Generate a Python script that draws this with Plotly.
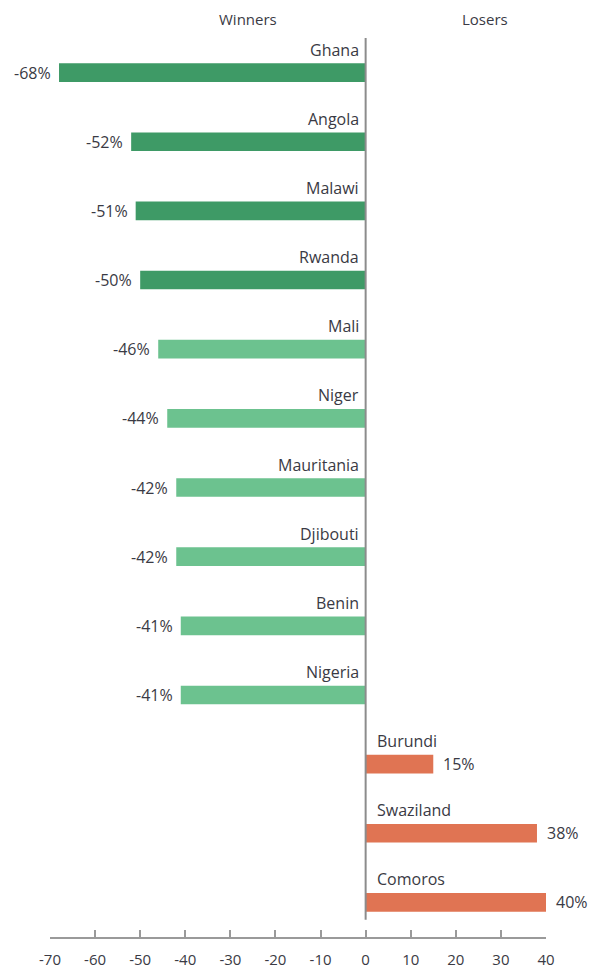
import plotly.graph_objects as go

countries = ["Ghana", "Angola", "Malawi", "Rwanda", "Mali", "Niger", "Mauritania",
             "Djibouti", "Benin", "Nigeria", "Burundi", "Swaziland", "Comoros"]
values = [-68, -52, -51, -50, -46, -44, -42, -42, -41, -41, 15, 38, 40]
groups = ["top", "top", "top", "top", "win", "win", "win", "win", "win", "win",
          "lose", "lose", "lose"]
tick_vals = [-70, -60, -50, -40, -30, -20, -10, 0, 10, 20, 30, 40]
headers = ["Winners", "Losers"]
header_x = [-26, 26.5]

color_map = {"top": "#3e9a66", "win": "#6cc28f", "lose": "#e07453"}
colors = [color_map[g] for g in groups]
txt = "#3a3a44"
font = "Open Sans"

fig = go.Figure()
fig.add_trace(go.Bar(
    x=values, y=countries, orientation="h",
    marker=dict(color=colors, line=dict(width=0)),
    width=0.27, hoverinfo="skip",
))

ann = []
for c, v in zip(countries, values):
    neg = v < 0
    ann.append(dict(x=0, y=c, xref="x", yref="y", text=c, showarrow=False,
                    xanchor="right" if neg else "left", yanchor="middle",
                    xshift=-5 if neg else 9, yshift=23,
                    font=dict(family=font, size=16, color=txt)))
    ann.append(dict(x=v, y=c, xref="x", yref="y", text=f"{v}%", showarrow=False,
                    xanchor="right" if neg else "left", yanchor="middle",
                    xshift=-6 if neg else 8, yshift=0,
                    font=dict(family=font, size=16, color=txt)))
for h, hx in zip(headers, header_x):
    ann.append(dict(x=hx, y=1, xref="x", yref="paper", text=h, showarrow=False,
                    xanchor="center", yanchor="middle", yshift=19,
                    font=dict(family=font, size=15, color=txt)))

fig.update_layout(
    width=588, height=963,
    margin=dict(l=42, r=50, t=30, b=34, autoexpand=False),
    paper_bgcolor="white", plot_bgcolor="white",
    showlegend=False,
    annotations=ann,
    shapes=[dict(type="line", xref="x", yref="y", x0=0, x1=0, y0=-0.5, y1=12.25,
                 line=dict(color="#8c8c8c", width=2), layer="above")],
    xaxis=dict(range=[-70, 40], tickvals=tick_vals, ticktext=[str(t) for t in tick_vals],
               showgrid=False, zeroline=False, showline=True, linecolor="#9a9a9a",
               linewidth=2, ticks="inside", ticklen=7, tickcolor="#9a9a9a", tickwidth=2,
               ticklabelstandoff=8, automargin=False,
               tickfont=dict(family=font, size=15, color=txt), fixedrange=True),
    yaxis=dict(categoryorder="array", categoryarray=countries,
               visible=False, range=[12.5, -0.5], automargin=False),
)

fig.write_html("out.html")
